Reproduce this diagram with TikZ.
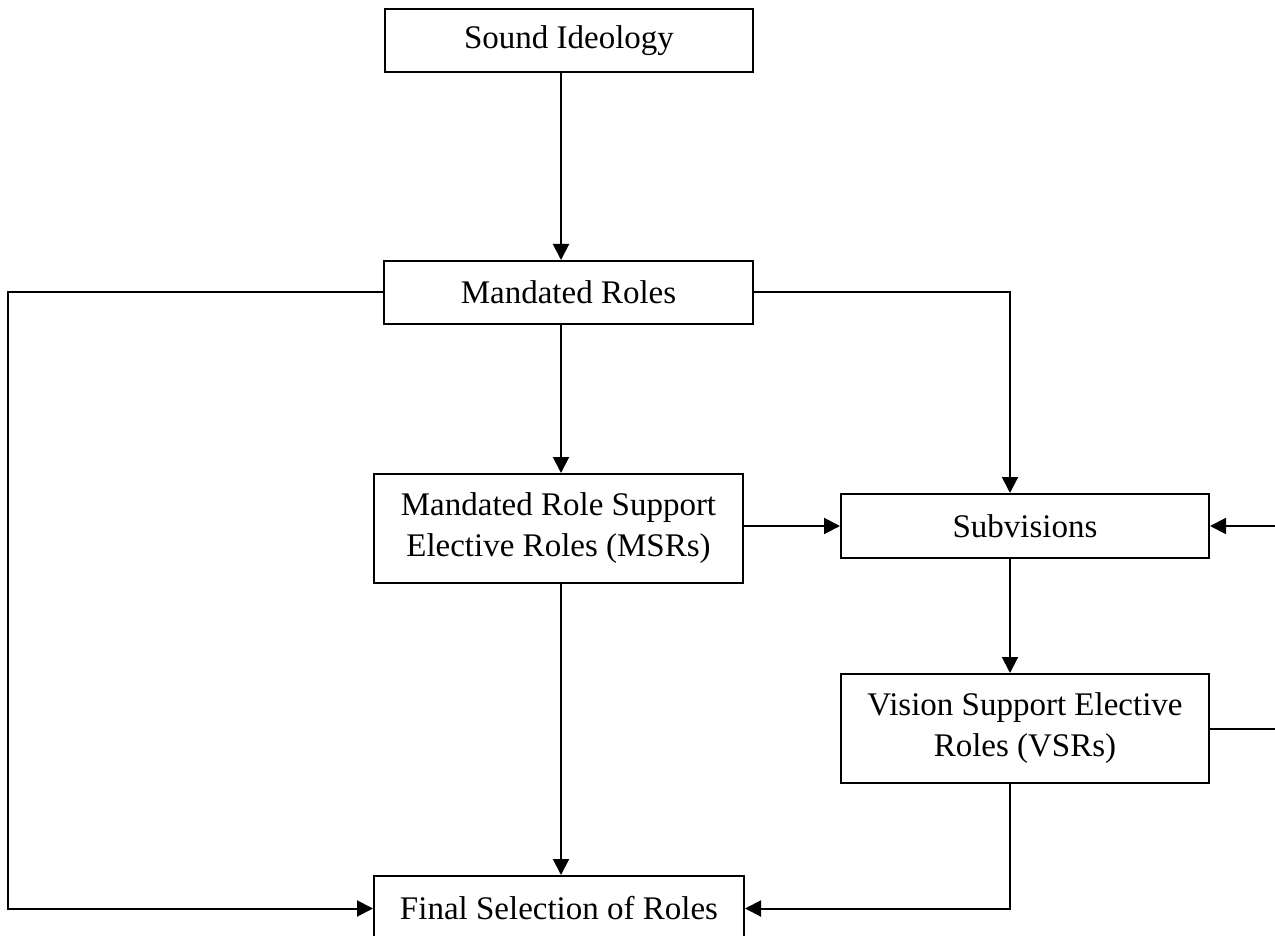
\documentclass[tikz,border=0pt]{standalone}
\usepackage{fontspec}
\setmainfont{Liberation Serif}
\usetikzlibrary{arrows.meta}
\begin{document}
\begin{tikzpicture}[x=1pt,y=-1pt,
  box/.style={draw=black, line width=2pt, fill=white, anchor=north west,
    align=center, inner sep=0pt, font=\fontsize{33}{41}\selectfont},
  link/.style={draw=black, line width=2pt},
  arr/.style={link, -{Triangle[length=16pt,width=16pt]}}]
\useasboundingbox (0,0) rectangle (1275,936);

% boxes
\node[box, minimum width=368pt, minimum height=63pt] (si) at (384,8) {Sound Ideology};
\node[box, minimum width=369pt, minimum height=63pt] (mr) at (383,260) {Mandated Roles};
\node[box, minimum width=369pt, minimum height=109pt] (msr) at (373,473) {Mandated Role Support\\Elective Roles (MSRs)};
\node[box, minimum width=368pt, minimum height=64pt] (sub) at (840,493) {Subvisions};
\node[box, minimum width=368pt, minimum height=109pt] (vsr) at (840,673) {Vision Support Elective\\Roles (VSRs)};
\node[box, minimum width=370pt, minimum height=65pt] (fin) at (373,875) {Final Selection of Roles};

% routing columns
\coordinate (colA) at (561,0);
\coordinate (colB) at (1010,0);
\coordinate (lft) at (8,600);
\coordinate (rgt) at (1290,600);

% connectors
\draw[arr] (si.south -| colA) -- (mr.north -| colA);
\draw[arr] (mr.south -| colA) -- (msr.north -| colA);
\draw[arr] (msr.south -| colA) -- (fin.north -| colA);
\draw[arr] (mr.west) -| (lft) |- (fin.west);
\draw[arr] (mr.east) -| (sub.north -| colB);
\draw[arr] (msr.east |- sub.west) -- (sub.west);
\draw[arr] (sub.south -| colB) -- (vsr.north -| colB);
\draw[arr] (vsr.south -| colB) |- (fin.east);
\draw[arr] (vsr.east) -| (rgt) |- (sub.east);
\end{tikzpicture}
\end{document}
